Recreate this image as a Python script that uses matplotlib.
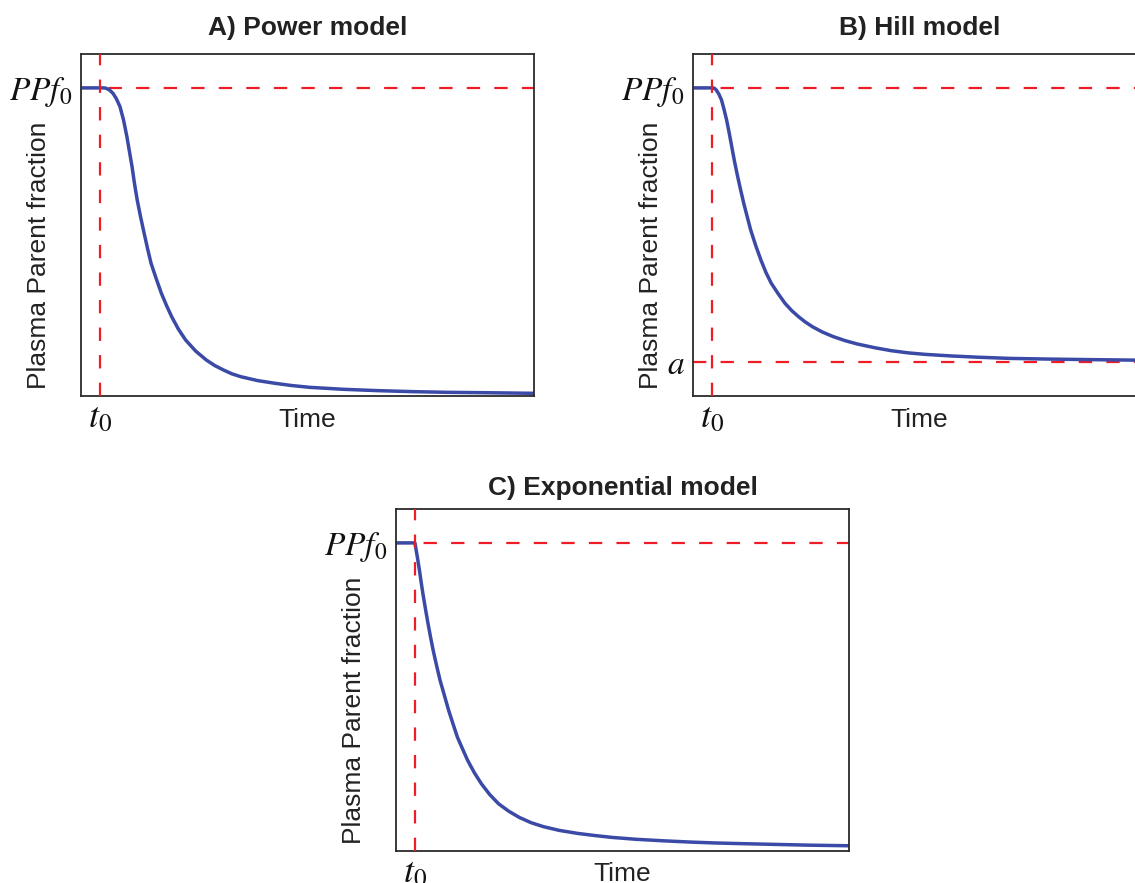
import matplotlib
matplotlib.use("Agg")
import matplotlib.pyplot as plt

plt.rcParams['font.family'] = ['Liberation Sans', 'DejaVu Sans']
plt.rcParams['mathtext.fontset'] = 'stix'

# ---- data (time scale 0..10, PPf0 = 1) ----
ppf0 = 1.0
hill_a = 0.11
t0_power = 0.43
t0_hill = 0.41
t0_exp = 0.42

power_t = [0.0, 0.48, 0.52, 0.556, 0.63, 0.708, 0.78, 0.861, 0.94, 1.013, 1.07, 1.127,
           1.18, 1.241, 1.31, 1.394, 1.47, 1.546, 1.66, 1.775, 1.89, 2.003, 2.15, 2.308,
           2.53, 2.765, 2.95, 3.145, 3.33, 3.526, 3.9, 4.288, 4.65, 5.049, 5.811, 6.573,
           7.334, 8.096, 8.857, 10.0]
power_y = [1.0, 1.0, 0.9997, 0.9986, 0.993, 0.982, 0.965, 0.939, 0.895, 0.842, 0.793, 0.744,
           0.69, 0.636, 0.585, 0.528, 0.478, 0.431, 0.381, 0.333, 0.293, 0.257, 0.217, 0.182,
           0.146, 0.117, 0.099, 0.0844, 0.072, 0.0627, 0.050, 0.0411, 0.034, 0.0281, 0.0216,
           0.0173, 0.0141, 0.0119, 0.0108, 0.0087]

hill_t = [0.0, 0.439, 0.47, 0.515, 0.57, 0.629, 0.685, 0.742, 0.80, 0.856, 0.91, 0.970,
          1.045, 1.121, 1.20, 1.273, 1.385, 1.500, 1.61, 1.727, 1.88, 2.030, 2.18, 2.333,
          2.48, 2.636, 2.85, 3.091, 3.35, 3.621, 4.0, 4.379, 4.75, 5.136, 5.7, 6.273, 7.0,
          7.788, 8.8, 10.0]
hill_y = [1.0, 1.0, 0.999, 0.993, 0.98, 0.961, 0.93, 0.896, 0.853, 0.809, 0.766, 0.723,
          0.673, 0.625, 0.58, 0.539, 0.488, 0.441, 0.401, 0.366, 0.332, 0.301, 0.277, 0.257,
          0.240, 0.225, 0.208, 0.193, 0.180, 0.169, 0.157, 0.147, 0.140, 0.135, 0.130, 0.126,
          0.122, 0.120, 0.118, 0.116]

exp_t = [0.0, 0.418, 0.47, 0.517, 0.555, 0.593, 0.65, 0.707, 0.764, 0.821, 0.897, 0.973,
         1.07, 1.163, 1.26, 1.354, 1.47, 1.582, 1.73, 1.886, 2.07, 2.266, 2.49, 2.722, 2.98,
         3.255, 3.6, 4.015, 4.4, 4.776, 5.3, 5.916, 6.5, 7.057, 7.6, 8.198, 9.1, 10.0]
exp_y = [1.0, 1.0, 0.955, 0.9116, 0.873, 0.836, 0.786, 0.738, 0.693, 0.651, 0.601, 0.554,
         0.504, 0.456, 0.412, 0.370, 0.331, 0.294, 0.254, 0.218, 0.183, 0.153, 0.129, 0.109,
         0.092, 0.079, 0.067, 0.057, 0.050, 0.044, 0.038, 0.033, 0.029, 0.026, 0.024, 0.022,
         0.019, 0.017]

titles = ["A) Power model", "B) Hill model", "C) Exponential model"]
ylabel = "Plasma Parent fraction"
xlabel = "Time"

# ---- styling ----
W, H = 1135, 883
curve_color = '#3a4aa6'
red = '#ee1c25'
spine_color = '#2b2b2b'
dash = (0, (6.0, 6.4))
vdash = (2.5, (6.0, 6.4))

fig = plt.figure(figsize=(W / 100, H / 100), dpi=100)

def px_axes(left, top, right, bottom):
    return fig.add_axes([left / W, (H - bottom) / H, (right - left) / W, (bottom - top) / H])

axA = px_axes(81, 54, 534, 396)
axB = px_axes(693, 54, 1146, 396)
axC = px_axes(396, 509, 849, 851)

panels = [
    (axA, power_t, power_y, t0_power, [ppf0], ['$PPf_0$'], titles[0], 1.076, -0.07),
    (axB, hill_t, hill_y, t0_hill, [hill_a, ppf0], ['$a$', '$PPf_0$'], titles[1], 1.076, -0.07),
    (axC, exp_t, exp_y, t0_exp, [ppf0], ['$PPf_0$'], titles[2], 1.061, -0.066),
]

for ax, tx, ty, t0, yt, ytl, title, ty_title, ty_xlabel in panels:
    ax.plot(tx, ty, color=curve_color, lw=2.5, solid_capstyle='butt',
            solid_joinstyle='round', zorder=2)
    ax.axvline(t0, color=red, lw=1.6, linestyle=dash, zorder=3)
    ax.axhline(ppf0, color=red, lw=1.6, linestyle=dash, zorder=1)
    if len(yt) > 1:
        ax.axhline(hill_a, color=red, lw=1.6, linestyle=dash, zorder=1)
    ax.set_xlim(0, 10)
    ax.set_ylim(0, 1.11)
    ax.set_xticks([t0])
    ax.set_xticklabels(['$t_0$'], fontsize=26)
    ax.set_yticks(yt)
    ax.set_yticklabels(ytl, fontsize=24)
    ax.tick_params(length=0, colors='#111111')
    ax.tick_params(axis='y', pad=6)
    ax.tick_params(axis='x', pad=3)
    for s in ax.spines.values():
        s.set_color(spine_color)
        s.set_linewidth(1.3)
    ax.text(0.5, ty_title, title, transform=ax.transAxes, ha='center', va='center',
            fontsize=19, fontweight='bold', color='#222222')
    ax.text(0.5, ty_xlabel, xlabel, transform=ax.transAxes, ha='center', va='center',
            fontsize=19, color='#222222')
    ax.text(-0.092, 0.41, ylabel, transform=ax.transAxes, ha='center', va='center',
            rotation=90, fontsize=19, color='#222222')

fig.savefig('out.png', dpi=100)
